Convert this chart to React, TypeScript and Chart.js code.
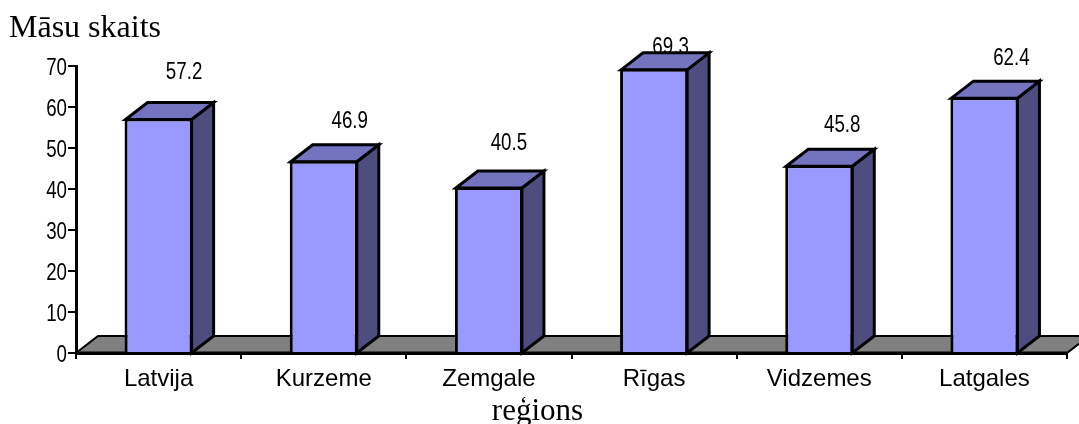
import React, { useEffect, useRef } from "react";
import { Chart, registerables } from "chart.js";

Chart.register(...registerables);

const categories = ["Latvija", "Kurzeme", "Zemgale", "Rīgas", "Vidzemes", "Latgales"];
const values = [57.2, 46.9, 40.5, 69.3, 45.8, 62.4];
const valueLabels = ["57.2", "46.9", "40.5", "69.3", "45.8", "62.4"];
const yTitle = "Māsu skaits";
const xTitle = "reģions";

// label placement relative to each bar's front top centre (style only)
const labelDx = [25.5, 26, 20, 16.5, 23, 27];
const labelDy = [-48, -41, -46, -23, -42, -41];

const DEPTH_X = 22;
const DEPTH_Y = 17;
const SANS = "'Liberation Sans', Arial, sans-serif";
const SERIF = "'Liberation Serif', 'Times New Roman', serif";
const NARROW_SCALE = 0.78;

const poly = (ctx: CanvasRenderingContext2D, pts: number[][], fill: string, lw: number) => {
  ctx.beginPath();
  pts.forEach(([x, y], i) => (i ? ctx.lineTo(x, y) : ctx.moveTo(x, y)));
  ctx.closePath();
  ctx.fillStyle = fill;
  ctx.fill();
  ctx.lineWidth = lw;
  ctx.lineJoin = "miter";
  ctx.strokeStyle = "#000";
  ctx.stroke();
};

const narrowText = (
  ctx: CanvasRenderingContext2D,
  text: string,
  x: number,
  y: number,
  align: CanvasTextAlign
) => {
  ctx.save();
  ctx.translate(x, y + 2);
  ctx.scale(NARROW_SCALE, 1);
  ctx.textAlign = align;
  ctx.textBaseline = "middle";
  ctx.fillStyle = "#000";
  ctx.font = `24px ${SANS}`;
  ctx.fillText(text, 0, 0);
  ctx.restore();
};

const box3d = {
  id: "box3d",
  beforeDatasetsDraw(chart: any) {
    const { ctx, chartArea: a, scales } = chart;
    const base = scales.y.getPixelForValue(0);
    ctx.save();
    poly(
      ctx,
      [
        [a.left, base],
        [a.left + DEPTH_X, base - DEPTH_Y],
        [a.right + DEPTH_X, base - DEPTH_Y],
        [a.right, base],
      ],
      "#808080",
      2
    );
    ctx.beginPath();
    ctx.moveTo(a.left, base);
    ctx.lineTo(a.right, base);
    ctx.lineWidth = 3;
    ctx.stroke();
    chart.getDatasetMeta(0).data.forEach((bar: any) => {
      const l = bar.x - bar.width / 2 + 1;
      const r = bar.x + bar.width / 2 - 1;
      poly(
        ctx,
        [
          [r, bar.y + 1],
          [r + DEPTH_X, bar.y + 1 - DEPTH_Y],
          [r + DEPTH_X, base - DEPTH_Y],
          [r, base],
        ],
        "#4D4D80",
        3
      );
      poly(
        ctx,
        [
          [l, bar.y + 1],
          [l + DEPTH_X, bar.y + 1 - DEPTH_Y],
          [r + DEPTH_X, bar.y + 1 - DEPTH_Y],
          [r, bar.y + 1],
        ],
        "#7373BF",
        3
      );
    });
    ctx.restore();
  },
  afterDatasetsDraw(chart: any) {
    const { ctx, scales, chartArea: a } = chart;
    chart.getDatasetMeta(0).data.forEach((bar: any, i: number) => {
      narrowText(ctx, valueLabels[i], bar.x + labelDx[i], bar.y + labelDy[i], "center");
    });
    scales.y.ticks.forEach((t: any) => {
      narrowText(ctx, String(t.value), a.left - 9, scales.y.getPixelForValue(t.value), "right");
    });
    ctx.save();
    ctx.font = `31px ${SERIF}`;
    ctx.fillStyle = "#000";
    ctx.textAlign = "center";
    ctx.textBaseline = "middle";
    ctx.fillText(xTitle, (a.left + a.right) / 2 - 34, 412);
    ctx.restore();
  },
};

export default function App() {
  const ref = useRef<HTMLCanvasElement>(null);
  useEffect(() => {
    const chart = new Chart(ref.current!, {
      type: "bar",
      data: {
        labels: categories,
        datasets: [
          {
            data: values,
            backgroundColor: "#9999FF",
            borderColor: "#000",
            borderWidth: 3,
            barPercentage: 0.412,
            categoryPercentage: 1,
          },
        ],
      },
      plugins: [box3d],
      options: {
        responsive: false,
        animation: false,
        layout: { padding: { left: 9, right: 12, top: 0, bottom: 0 } },
        plugins: {
          legend: { display: false },
          tooltip: { enabled: false },
          title: {
            display: true,
            text: yTitle,
            align: "start",
            color: "#000",
            font: { family: SERIF, size: 32, weight: "normal", lineHeight: 1 },
            padding: { top: 13, bottom: 21 },
          },
        },
        scales: {
          x: {
            offset: true,
            afterFit: (s: any) => {
              s.height = 71;
            },
            border: { color: "#000", width: 3 },
            grid: { drawOnChartArea: false, color: "#000", lineWidth: 2, tickLength: 6, offset: true },
            ticks: {
              color: "#000",
              font: { family: SANS, size: 24 },
              padding: 6,
              maxRotation: 0,
              autoSkip: false,
            },
          },
          y: {
            min: 0,
            max: 70,
            afterFit: (s: any) => {
              s.width = 67;
            },
            border: { color: "#000", width: 3 },
            grid: { drawOnChartArea: false, color: "#000", lineWidth: 2, tickLength: 8 },
            ticks: { display: false, stepSize: 10 },
          },
        },
      } as any,
    });
    return () => chart.destroy();
  }, []);
  return (
    <div style={{ position: "fixed", left: 0, top: 0, width: 1079, height: 424, background: "#fff" }}>
      <canvas ref={ref} width={1079} height={424} style={{ display: "block" }} />
    </div>
  );
}
